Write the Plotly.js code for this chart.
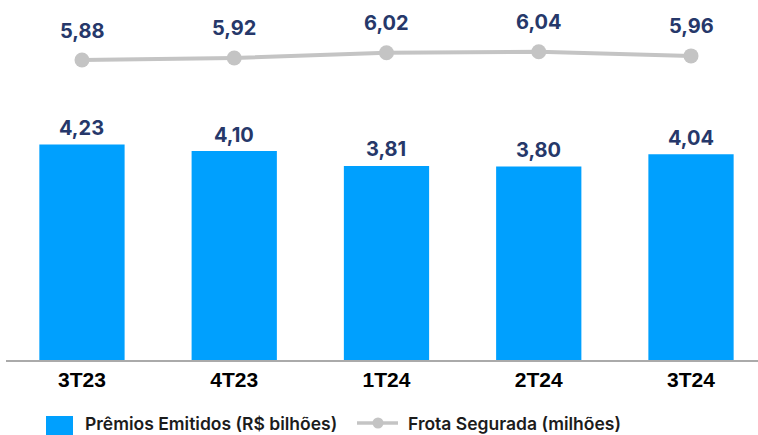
<!DOCTYPE html>
<html>
<head>
<meta charset="utf-8">
<script src="https://cdn.plot.ly/plotly-3.0.1.min.js"></script>
<style>html,body{margin:0;padding:0;background:#fff}#chart{width:758px;height:435px}</style>
</head>
<body>
<div id="chart"></div>
<script>
const categories = ['3T23', '4T23', '1T24', '2T24', '3T24'];
const premios = [4.23, 4.10, 3.81, 3.80, 4.04];
const frota = [5.88, 5.92, 6.02, 6.04, 5.96];
const seriesNames = ['Prêmios Emitidos (R$ bilhões)', 'Frota Segurada (milhões)'];

const barColor = '#00a0fe';
const lineColor = '#c4c4c4';
const fmt = v => v.toFixed(2).replace('.', ',');
const labelFont = {family: 'Inter, "Noto Sans", sans-serif', size: 20, color: '#26386a', weight: 700};
const legendFont = {family: 'Inter, "Noto Sans", sans-serif', size: 17.5, color: '#1c1c1c', weight: 600};

// pixel -> paper helpers (plot area: left 6, width 752, top 0, height 360)
const W = 758, H = 435, ML = 6, MR = 0, MT = 0, MB = 75;
const PW = W - ML - MR, PH = H - MT - MB;
const px = v => (v - ML) / PW;
const py = v => (H - MB - v) / PH;

const traces = [
  {
    type: 'bar', name: seriesNames[0], x: categories, y: premios,
    marker: {color: barColor}, width: 0.56, yaxis: 'y', hoverinfo: 'skip'
  },
  {
    type: 'scatter', mode: 'lines+markers', name: seriesNames[1], x: categories, y: frota,
    yaxis: 'y2', line: {color: lineColor, width: 4}, marker: {color: lineColor, size: 15},
    hoverinfo: 'skip'
  }
];

const annotations = [];
categories.forEach((c, i) => {
  annotations.push({x: c, y: premios[i], xref: 'x', yref: 'y', text: fmt(premios[i]),
    showarrow: false, yanchor: 'middle', yshift: 16.5, font: labelFont});
  annotations.push({x: c, y: frota[i], xref: 'x', yref: 'y2', text: fmt(frota[i]),
    showarrow: false, yanchor: 'middle', yshift: 29.5, font: labelFont});
});

// custom legend
annotations.push({xref: 'paper', yref: 'paper', x: px(84), y: py(423.5), xanchor: 'left', yanchor: 'middle',
  text: seriesNames[0], showarrow: false, font: legendFont, borderpad: 0});
annotations.push({xref: 'paper', yref: 'paper', x: px(407), y: py(423.5), xanchor: 'left', yanchor: 'middle',
  text: seriesNames[1], showarrow: false, font: legendFont, borderpad: 0});

const shapes = [
  {type: 'rect', xref: 'paper', yref: 'paper', x0: px(46), x1: px(73), y0: py(440), y1: py(416),
    fillcolor: barColor, line: {width: 0}},
  {type: 'line', xref: 'paper', yref: 'paper', x0: px(357), x1: px(398), y0: py(423), y1: py(423),
    line: {color: lineColor, width: 3.5}},
  {type: 'circle', xref: 'paper', yref: 'paper', x0: px(372.5), x1: px(383.5), y0: py(428.5), y1: py(417.5),
    fillcolor: lineColor, line: {width: 0}}
];

const layout = {
  width: W, height: H,
  margin: {l: ML, r: MR, t: MT, b: MB, autoexpand: false},
  paper_bgcolor: '#ffffff', plot_bgcolor: '#ffffff',
  showlegend: false,
  xaxis: {
    type: 'category', range: [-0.499, 4.44], showline: true, linecolor: '#aaaaaa', linewidth: 2,
    ticks: '', showgrid: false, zeroline: false,
    tickfont: {family: '"Liberation Sans", Arial, sans-serif', size: 21, color: '#000000', weight: 700}
  },
  yaxis: {range: [0, 7.066], visible: false, showgrid: false, zeroline: false},
  yaxis2: {range: [0.055, 7.045], overlaying: 'y', visible: false, showgrid: false, zeroline: false},
  annotations: annotations,
  shapes: shapes
};

Plotly.newPlot('chart', traces, layout, {displayModeBar: false, staticPlot: true});
</script>
</body>
</html>
